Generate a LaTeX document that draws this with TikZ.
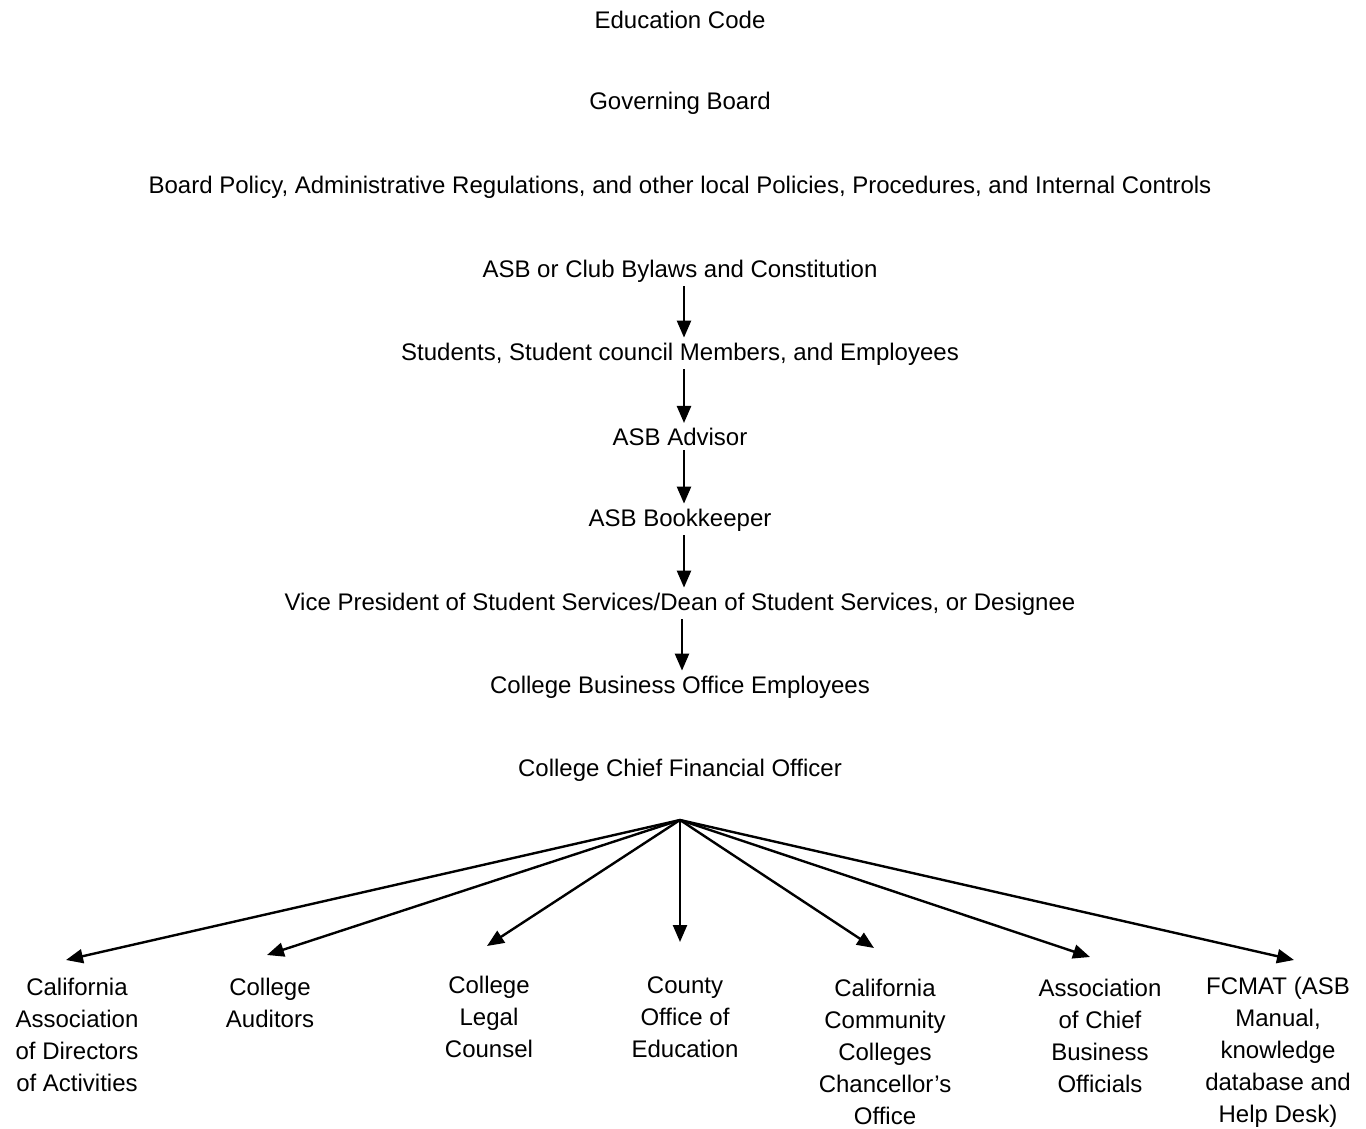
\documentclass[tikz,border=0pt]{standalone}
\usepackage{fontspec}
\setmainfont{Liberation Sans}
\usetikzlibrary{arrows.meta}
\begin{document}
\begin{tikzpicture}[x=1pt,y=-1pt,
  lbl/.style={inner sep=1pt,font=\fontsize{24}{32}\selectfont},
  multi/.style={lbl,align=center},
  arr/.style={line width=2.4pt,-{Triangle[length=17pt,width=14pt]}},
  varr/.style={arr,shorten <=3pt,shorten >=4pt}]
\useasboundingbox (0,0) rectangle (1366,1129);
\node[lbl] (ec) at (680,20) {Education Code};
\node[lbl] (gb) at (680,103) {Governing Board};
\node[lbl] (bp) at (680,187) {Board Policy, Administrative Regulations, and other local Policies, Procedures, and Internal Controls};
\node[lbl] (by) at (680,271) {ASB or Club Bylaws and Constitution};
\node[lbl] (st) at (680,354) {Students, Student council Members, and Employees};
\node[lbl] (ad) at (680,437) {ASB Advisor};
\node[lbl] (bk) at (680,520) {ASB Bookkeeper};
\node[lbl] (vp) at (680,604) {Vice President of Student Services/Dean of Student Services, or Designee};
\node[lbl] (cb) at (680,687) {College Business Office Employees};
\node[lbl] (cf) at (680,770) {College Chief Financial Officer};

\draw[varr] ([xshift=4pt]by.south) -- ([xshift=4pt]st.north);
\draw[varr] ([xshift=4pt]st.south) -- ([xshift=4pt]ad.north);
\draw[varr] ([xshift=4pt]ad.south) -- ([xshift=4pt]bk.north);
\draw[varr] ([xshift=4pt]bk.south) -- ([xshift=4pt]vp.north);
\draw[varr] ([xshift=2pt]vp.south) -- ([xshift=2pt]cb.north);

\coordinate (hub) at (680,820);
\node[multi] (b1) at (77,1035) {California\\Association\\of Directors\\of Activities};
\node[multi] (b2) at (270,1003) {College\\Auditors};
\node[multi] (b3) at (489,1017) {College\\Legal\\Counsel};
\node[multi] (b4) at (685,1017) {County\\Office of\\Education};
\node[multi] (b5) at (885,1052) {California\\Community\\Colleges\\Chancellor’s\\Office};
\node[multi] (b6) at (1100,1036) {Association\\of Chief\\Business\\Officials};
\node[multi] (b7) at (1278,1052) {FCMAT (ASB\\Manual,\\knowledge\\database and\\Help Desk)};

\coordinate (t1) at (66,960);
\coordinate (t2) at (267,955);
\coordinate (t3) at (487,946);
\coordinate (t4) at (680,942);
\coordinate (t5) at (874,948);
\coordinate (t6) at (1090,957);
\coordinate (t7) at (1294,960);
\foreach \i in {1,...,7} \draw[arr] (hub) -- (t\i);
\end{tikzpicture}
\end{document}
